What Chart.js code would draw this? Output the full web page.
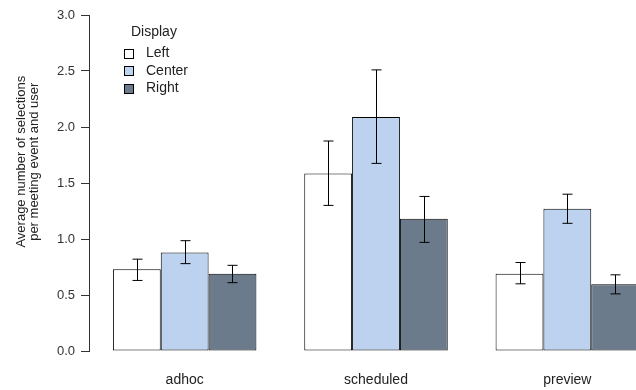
<!DOCTYPE html>
<html>
<head>
<meta charset="utf-8">
<script src="https://cdn.jsdelivr.net/npm/chart.js@4.4.0/dist/chart.umd.min.js"></script>
<style>
html,body{margin:0;padding:0;background:#fff;overflow:hidden;width:636px;height:390px;}
#wrap{position:relative;width:636px;height:390px;overflow:hidden;}
canvas{position:absolute;left:0;top:0;}
</style>
</head>
<body>
<div id="wrap"><canvas id="c" width="670" height="390"></canvas></div>
<script>
const categories = ['adhoc', 'scheduled', 'preview'];
const seriesNames = ['Left', 'Center', 'Right'];
const leftMean   = [0.73, 1.585, 0.69];
const centerMean = [0.88, 2.09, 1.27];
const rightMean  = [0.69, 1.18, 0.595];
const leftLow    = [0.63, 1.30, 0.60];
const leftHigh   = [0.82, 1.875, 0.79];
const centerLow  = [0.78, 1.675, 1.14];
const centerHigh = [0.985, 2.51, 1.40];
const rightLow   = [0.61, 0.97, 0.51];
const rightHigh  = [0.765, 1.38, 0.68];
const yTicks = [0, 0.5, 1.0, 1.5, 2.0, 2.5, 3.0];
const legendTitle = 'Display';
const yTitle = ['Average number of selections', 'per meeting event and user'];

const colors = ['#ffffff', '#bcd2ee', '#6c7b8b'];
const means = [leftMean, centerMean, rightMean];
const lows = [leftLow, centerLow, rightLow];
const highs = [leftHigh, centerHigh, rightHigh];

const FONT = '"Liberation Sans", Arial, sans-serif';

const errorBars = {
  id: 'errorBars',
  afterDatasetsDraw(chart) {
    const ctx = chart.ctx, y = chart.scales.y;
    ctx.save();
    ctx.strokeStyle = '#000';
    ctx.lineWidth = 1;
    chart.data.datasets.forEach((ds, i) => {
      const meta = chart.getDatasetMeta(i);
      meta.data.forEach((bar, j) => {
        const x = Math.round(bar.x) + 0.5;
        const y1 = y.getPixelForValue(ds.errLow[j]);
        const y2 = y.getPixelForValue(ds.errHigh[j]);
        ctx.beginPath();
        ctx.moveTo(x, y1); ctx.lineTo(x, y2);
        ctx.moveTo(x - 5, y1); ctx.lineTo(x + 5, y1);
        ctx.moveTo(x - 5, y2); ctx.lineTo(x + 5, y2);
        ctx.stroke();
      });
    });
    ctx.restore();
  }
};

const extras = {
  id: 'extras',
  afterDraw(chart) {
    const ctx = chart.ctx, y = chart.scales.y;
    ctx.save();
    // y title
    ctx.fillStyle = '#222';
    ctx.font = '13px ' + FONT;
    ctx.textAlign = 'center';
    ctx.textBaseline = 'middle';
    ctx.translate(27.5, y.getPixelForValue(1.69));
    ctx.rotate(-Math.PI / 2);
    ctx.fillText(yTitle[0], 0, -6.5);
    ctx.fillText(yTitle[1], 0, 7);
    ctx.restore();
    // legend
    ctx.save();
    ctx.font = '14px ' + FONT;
    ctx.fillStyle = '#222';
    ctx.textAlign = 'left';
    ctx.textBaseline = 'middle';
    ctx.fillText(legendTitle, 131, 32);
    chart.data.datasets.forEach((ds, i) => {
      const cy = 53 + i * 17.5;
      const top = Math.round(cy - 4.5) + 0.5;
      ctx.fillStyle = ds.backgroundColor;
      ctx.fillRect(124.5, top, 9, 9);
      ctx.strokeStyle = '#000';
      ctx.lineWidth = 1;
      ctx.strokeRect(124.5, top, 9, 9);
      ctx.fillStyle = '#222';
      ctx.fillText(ds.label, 146, cy + 0.5);
    });
    ctx.restore();
  }
};

new Chart(document.getElementById('c'), {
  type: 'bar',
  data: {
    labels: categories,
    datasets: seriesNames.map((n, i) => ({
      label: n,
      data: means[i],
      errLow: lows[i],
      errHigh: highs[i],
      backgroundColor: colors[i],
      borderColor: '#000',
      borderWidth: 1,
      borderSkipped: false,
      categoryPercentage: 0.75,
      barPercentage: 1.0
    }))
  },
  options: {
    responsive: false,
    animation: false,
    devicePixelRatio: 1,
    layout: { padding: { left: 0, right: 7, top: 15, bottom: 0 } },
    plugins: { legend: { display: false }, tooltip: { enabled: false } },
    scales: {
      x: {
        grid: { display: false, drawTicks: false },
        border: { display: false },
        ticks: { padding: 21, color: '#222', font: { family: FONT, size: 14 } },
        afterFit(s) { s.height = 39; }
      },
      y: {
        min: 0, max: 3,
        afterBuildTicks(s) { s.ticks = yTicks.map(v => ({ value: v })); },
        afterFit(s) { s.width = 89; },
        grid: { drawOnChartArea: false, drawTicks: true, tickLength: 8, color: '#333' },
        border: { display: true, color: '#333' },
        ticks: { padding: 6, color: '#333', font: { family: FONT, size: 13 },
          callback: v => Number(v).toFixed(1) }
      }
    }
  },
  plugins: [errorBars, extras]
});
</script>
</body>
</html>
